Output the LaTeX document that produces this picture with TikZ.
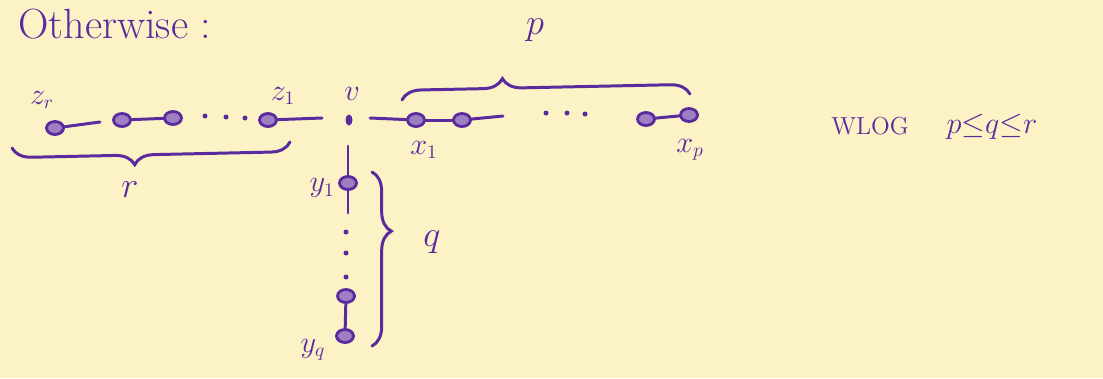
\documentclass[tikz,border=0pt]{standalone}
\usetikzlibrary{shapes.geometric,decorations.pathreplacing}
\definecolor{ink}{HTML}{5B2A9C}
\definecolor{paper}{HTML}{FBF3C6}
\begin{document}
\begin{tikzpicture}[x=0.2mm,y=-0.2mm,
  ink/.style={draw=ink,line width=1.7pt,line cap=round},
  vtx/.style={ellipse,draw=ink,fill=ink!60,line width=1.6pt,minimum width=3.4mm,minimum height=2.6mm,inner sep=0pt},
  dotv/.style={ellipse,fill=ink,minimum width=1.4mm,minimum height=2.2mm,inner sep=0pt},
  sdot/.style={circle,fill=ink,minimum size=1.0mm,inner sep=0pt},
  lab/.style={text=ink,font=\fontsize{16}{18}\selectfont,inner sep=0pt},
  big/.style={text=ink,font=\fontsize{22}{26}\selectfont,inner sep=0pt},
  bracestyle/.style={ink,decorate,decoration={brace,amplitude=#1}}
]
\fill[paper] (0,0) rectangle (1103,378);
\useasboundingbox (0,0) rectangle (1103,378);

% title
\node[text=ink,font=\fontsize{24}{28}\selectfont,inner sep=0pt,anchor=west] (title) at (18,24) {Otherwise :};

% r path
\node[vtx] (zr) at (55,128) {};
\node[vtx] (z2) at (122,120) {};
\node[vtx] (z3) at (173,118) {};
\node[sdot] (zd1) at (205,116) {};
\node[sdot] (zd2) at (226,117) {};
\node[sdot] (zd3) at (245,118) {};
\node[vtx] (z1) at (268,120) {};
\coordinate (zre) at (100,122);
\coordinate (z1e) at (322,118);
\draw[ink] (zr) -- (zre);
\draw[ink] (z2) -- (z3);
\draw[ink] (z1) -- (z1e);
\node[lab] (lzr) at (42,100) {$z_r$};
\node[lab] (lz1) at (283,96) {$z_1$};

% v
\node[dotv] (v) at (349,120) {};
\node[lab] (lv) at (352,94) {$v$};

% x path
\coordinate (vxs) at (370,118);
\node[vtx] (x1) at (416,120) {};
\node[vtx] (x2) at (462,120) {};
\coordinate (x2e) at (503,116);
\node[sdot] (xd1) at (546,113) {};
\node[sdot] (xd2) at (567,113) {};
\node[sdot] (xd3) at (585,114) {};
\node[vtx] (xq) at (646,119) {};
\node[vtx] (xp) at (689,115) {};
\draw[ink] (vxs) -- (x1);
\draw[ink] (x1) -- (x2);
\draw[ink] (x2) -- (x2e);
\draw[ink] (xq) -- (xp);
\node[lab] (lx1) at (424,150) {$x_1$};
\node[lab] (lxp) at (690,150) {$x_p$};

% y path
\coordinate (vys) at (348,146);
\node[vtx] (y1) at (348,183) {};
\coordinate (y1e) at (348,213);
\node[sdot] (yd1) at (346,232) {};
\node[sdot] (yd2) at (346,253) {};
\node[sdot] (yd3) at (346,277) {};
\node[vtx] (yq1) at (346,296) {};
\node[vtx] (yq) at (345,336) {};
\draw[ink] (vys) -- (y1);
\draw[ink] (y1) -- (y1e);
\draw[ink] (yq1) -- (yq);
\node[lab] (ly1) at (322,188) {$y_1$};
\node[lab] (lyq) at (313,350) {$y_q$};

% braces
\coordinate (rb1) at (290,142);
\coordinate (rb2) at (12,148);
\draw[bracestyle=11pt,decoration={aspect=0.56}] (rb1) -- (rb2);
\node[big] (lr) at (130,190) {$r$};

\coordinate (pb1) at (402,100);
\coordinate (pb2) at (690,94);
\draw[bracestyle=11pt,decoration={aspect=0.35}] (pb1) -- (pb2);
\node[big] (lp) at (535,30) {$p$};

\coordinate (qb1) at (372,172);
\coordinate (qb2) at (372,346);
\draw[bracestyle=11pt,decoration={aspect=0.34}] (qb1) -- (qb2);
\node[big] (lq) at (432,242) {$q$};

% WLOG
\node[text=ink,font=\fontsize{14}{16}\selectfont,inner sep=0pt] (wlog) at (870,126) {WLOG};
\node[text=ink,font=\fontsize{17}{20}\selectfont,inner sep=0pt] (rel) at (992,127) {$p{\leq}q{\leq}r$};
\end{tikzpicture}
\end{document}
